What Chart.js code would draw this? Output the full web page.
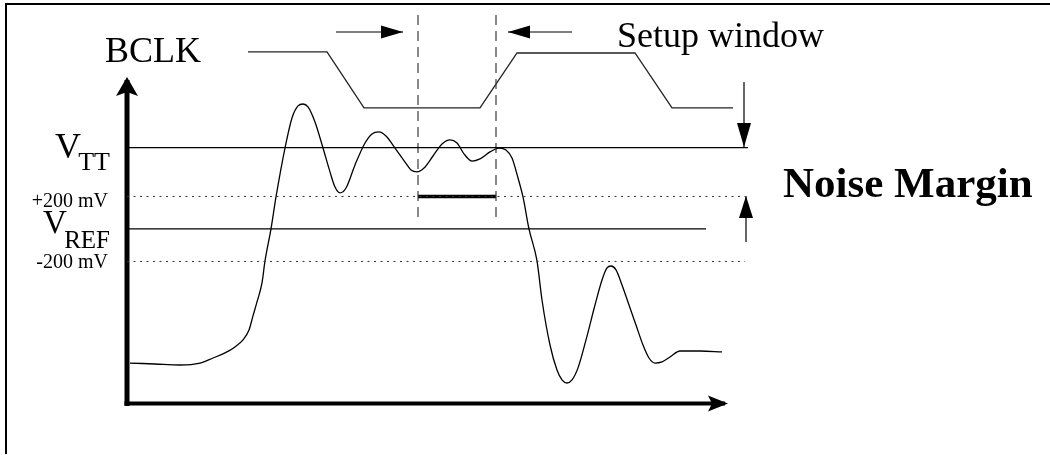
<!DOCTYPE html>
<html>
<head>
<meta charset="utf-8">
<script src="https://cdn.jsdelivr.net/npm/chart.js@4"></script>
<style>
  html, body { margin: 0; padding: 0; background: #fff; }
  #frame { position: absolute; left: 5px; top: 3px; width: 1043px; height: 449px;
           border-top: 2px solid #000; border-left: 2px solid #000; }
  #c { position: absolute; left: 0; top: 0; }
</style>
</head>
<body>
<div id="frame"></div>
<canvas id="c" width="1050" height="455"></canvas>
<script>
// time in arbitrary units, voltage in V
const sigT = [0.3, 2.8, 5.3, 7.3, 8.6, 9.8, 10.8, 11.6, 12.2, 12.6, 13.0, 13.5, 13.8, 14.4, 14.9,
  15.8, 16.5, 17.1, 17.6, 18.1, 18.8, 19.6, 20.3, 20.8, 21.3, 21.9, 22.8, 23.8, 24.5, 25.2, 25.9,
  26.8, 27.8, 28.4, 29.0, 29.7, 30.6, 31.5, 32.3, 33.0, 33.7, 34.5, 35.3, 36.3, 37.2, 37.9, 38.5,
  39.1, 39.6, 40.2, 41.0, 41.5, 42.3, 43.0, 43.5, 44.0, 44.5, 45.1, 45.9, 46.8, 47.5, 48.0, 48.4,
  48.9, 49.5, 50.2, 50.9, 51.6, 52.2, 52.8, 53.5, 54.3, 55.3, 57.3, 59.5];
const sigV = [0.175, 0.169, 0.163, 0.175, 0.206, 0.237, 0.274, 0.317, 0.378, 0.465, 0.551, 0.668,
  0.803, 1.000, 1.197, 1.498, 1.683, 1.757, 1.769, 1.751, 1.658, 1.498, 1.351, 1.258, 1.222, 1.252,
  1.394, 1.529, 1.585, 1.597, 1.572, 1.498, 1.412, 1.363, 1.351, 1.375, 1.449, 1.523, 1.548, 1.529,
  1.462, 1.418, 1.431, 1.474, 1.498, 1.486, 1.437, 1.314, 1.197, 1.000, 0.803, 0.563, 0.286, 0.132,
  0.071, 0.052, 0.071, 0.145, 0.317, 0.532, 0.686, 0.760, 0.772, 0.748, 0.655, 0.532, 0.409, 0.286,
  0.206, 0.175, 0.182, 0.212, 0.249, 0.249, 0.243];

const clkT = [12.1, 20.0, 23.7, 35.3, 39.0, 50.8, 54.5, 60.6];
const clkV = [2.09, 2.09, 1.745, 1.745, 2.083, 2.083, 1.745, 1.745];

const VTT = 1.5, VREF = 1.0, NM_HI = 1.2, NM_LO = 0.8;
const setupT = [29.1, 36.9];          // setup window edges
const axisEndT = 59.8, axisTopV = 1.917, axisV = -0.074;

const labelText = ["BCLK", "Setup window", "V", "TT", "+200 mV", "V", "REF", "-200 mV", "Noise Margin"];

const pts = (xs, ys) => xs.map((x, i) => ({ x, y: ys[i] }));
const seg = (x0, y0, x1, y1) => [{ x: x0, y: y0 }, { x: x1, y: y1 }];
function line(data, opts) {
  return Object.assign({ data, showLine: true, pointRadius: 0, borderColor: "#000",
    borderWidth: 1.2, fill: false, tension: 0 }, opts);
}

const serif = '"Liberation Serif", "Times New Roman", serif';
const notes = [
  { t: labelText[0], x: -2.2, y: 2.028, font: "36px " + serif, align: "left" },
  { t: labelText[1], x: 49.0, y: 2.12, font: "36px " + serif, align: "left" },
  { t: labelText[2], x: -7.2, y: 1.437, font: "36px " + serif, align: "left" },
  { t: labelText[3], x: -1.7, y: 1.363, font: "26px " + serif, align: "right" },
  { t: labelText[4], x: -1.9, y: 1.135, font: "20px " + serif, align: "right" },
  { t: labelText[5], x: -8.4, y: 0.975, font: "33px " + serif, align: "left" },
  { t: labelText[6], x: -1.7, y: 0.883, font: "25px " + serif, align: "right" },
  { t: labelText[7], x: -1.9, y: 0.76, font: "20px " + serif, align: "right" },
  { t: labelText[8], x: 65.6, y: 1.197, font: "bold 43px " + serif, align: "left" }
];

const arrowHeads = {
  id: "arrowHeads",
  afterDatasetsDraw(chart) {
    const ctx = chart.ctx;
    chart.data.datasets.forEach((ds, i) => {
      if (!ds.arrow) return;
      const p = chart.getDatasetMeta(i).data;
      const a = p[p.length - 2], b = p[p.length - 1];
      const ang = Math.atan2(b.y - a.y, b.x - a.x);
      const { len, w, notch = 0, ext = 0 } = ds.arrow;
      ctx.save();
      ctx.translate(b.x, b.y);
      ctx.rotate(ang);
      ctx.beginPath();
      ctx.moveTo(ext, 0);
      ctx.lineTo(ext - len, -w / 2);
      ctx.lineTo(ext - len + notch, 0);
      ctx.lineTo(ext - len, w / 2);
      ctx.closePath();
      ctx.fillStyle = ds.borderColor;
      ctx.fill();
      ctx.restore();
    });
  }
};

const textNotes = {
  id: "textNotes",
  afterDraw(chart) {
    const ctx = chart.ctx, xs = chart.scales.x, ys = chart.scales.y;
    ctx.save();
    ctx.fillStyle = "#000";
    ctx.textBaseline = "alphabetic";
    notes.forEach(n => {
      ctx.font = n.font;
      ctx.textAlign = n.align;
      ctx.fillText(n.t, xs.getPixelForValue(n.x), ys.getPixelForValue(n.y));
    });
    ctx.restore();
  }
};

const datasets = [
  line(seg(0, VTT, 62.1, VTT)),
  line(seg(0, VREF, 57.9, VREF)),
  line(seg(0, NM_HI, 61.8, NM_HI), { borderDash: [2, 4.5], borderColor: "#333", borderWidth: 1 }),
  line(seg(0, NM_LO, 61.8, NM_LO), { borderDash: [2, 4.5], borderColor: "#333", borderWidth: 1 }),
  line(seg(setupT[0], 2.317, setupT[0], 1.043), { borderDash: [10, 6], borderColor: "#3a3a3a", borderWidth: 1.2 }),
  line(seg(setupT[1], 2.317, setupT[1], 1.043), { borderDash: [10, 6], borderColor: "#3a3a3a", borderWidth: 1.2 }),
  line(seg(setupT[0], NM_HI, setupT[1], NM_HI), { borderWidth: 3.5 }),
  line(pts(clkT, clkV), { borderWidth: 1.3, borderColor: "#222" }),
  line(seg(20.9, 2.212, 27.6, 2.212), { arrow: { len: 22, w: 13 } }),
  line(seg(44.5, 2.212, 38.1, 2.212), { arrow: { len: 22, w: 13 } }),
  line(seg(61.7, 1.905, 61.7, 1.505), { arrow: { len: 24, w: 14 } }),
  line(seg(61.9, 0.92, 61.9, 1.203), { arrow: { len: 22, w: 14 } }),
  line(seg(0, -0.09, 0, axisTopV), { borderWidth: 5, arrow: { len: 19, w: 22, notch: 4, ext: 3 } }),
  line(seg(-0.25, axisV, axisEndT, axisV), { borderWidth: 4, arrow: { len: 20, w: 16, notch: 4, ext: 3 } }),
  line(pts(sigT, sigV), { borderWidth: 1.3, cubicInterpolationMode: "monotone" })
];

new Chart(document.getElementById("c"), {
  type: "scatter",
  data: { datasets },
  options: {
    responsive: false,
    animation: false,
    devicePixelRatio: 1,
    events: [],
    layout: { padding: 0 },
    plugins: { legend: { display: false }, tooltip: { enabled: false } },
    scales: {
      x: { type: "linear", min: -12.7, max: 92.3, display: false },
      y: { type: "linear", min: -0.391, max: 2.409, display: false }
    }
  },
  plugins: [arrowHeads, textNotes]
});
</script>
</body>
</html>
